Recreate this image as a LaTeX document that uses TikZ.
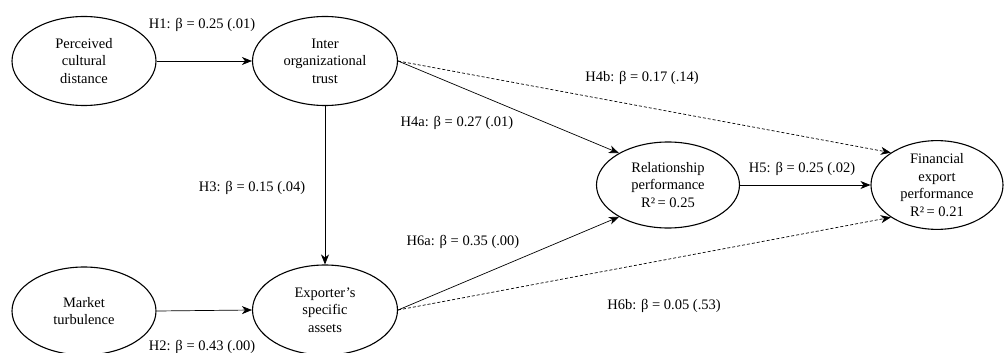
\documentclass[tikz,border=0pt]{standalone}
\usepackage{fontspec}
\setmainfont{Liberation Serif}
\usetikzlibrary{arrows.meta,shapes.geometric}
\tikzset{
  construct/.style={ellipse, draw=black, line width=1.1pt, align=center, inner sep=0pt,
    font=\fontsize{14.5}{17.5}\selectfont},
  lbl/.style={font=\fontsize{14.5}{17.5}\selectfont, inner sep=0pt, anchor=center},
  path/.style={line width=0.7pt, -{Stealth[length=10pt,width=8pt,inset=3pt]}},
  weak/.style={line width=0.7pt, dash pattern=on 3pt off 2pt, -{Stealth[length=10pt,width=8pt,inset=3pt]}}
}
\begin{document}
\begin{tikzpicture}[x=1pt,y=-1pt]
\useasboundingbox (0,0) rectangle (1004,353);
\node[construct, minimum width=144pt, minimum height=89pt] (pcd) at (84,61) {Perceived\\cultural\\distance};
\node[construct, minimum width=145pt, minimum height=89pt] (iot) at (325,61) {Inter\\organizational\\trust};
\node[construct, minimum width=144pt, minimum height=88pt] (mt) at (84,311) {Market\\turbulence};
\node[construct, minimum width=145pt, minimum height=90pt] (esa) at (325,310) {Exporter’s\\specific\\assets};
\node[construct, minimum width=143pt, minimum height=86pt] (rp) at (668,185) {Relationship\\performance\\R²\,= 0.25};
\node[construct, minimum width=132pt, minimum height=87pt] (fep) at (937,185) {Financial\\export\\performance\\R²\,= 0.21};

\draw[path] (pcd.east) -- (iot.west);
\draw[path] (mt.east) -- (esa.west);
\draw[path] (iot.south) -- (esa.north);
\draw[path] (rp.east) -- (fep.west);
\draw[path] (iot.east) -- (rp.147);
\draw[path] (esa.east) -- (rp.213);
\draw[weak] (iot.east) -- (fep.145);
\draw[weak] (esa.east) -- (fep.215);

\node[lbl] (l1) at (202,25) {H1: β = 0.25 (.01)};
\node[lbl] (l2) at (202,347) {H2: β = 0.43 (.00)};
\node[lbl] (l3) at (252,188) {H3: β = 0.15 (.04)};
\node[lbl] (l4a) at (457,123) {H4a: β = 0.27 (.01)};
\node[lbl] (l4b) at (642,78) {H4b: β = 0.17 (.14)};
\node[lbl] (l5) at (802,169) {H5: β = 0.25 (.02)};
\node[lbl] (l6a) at (463,242) {H6a: β = 0.35 (.00)};
\node[lbl] (l6b) at (664,306) {H6b: β = 0.05 (.53)};
\end{tikzpicture}
\end{document}
